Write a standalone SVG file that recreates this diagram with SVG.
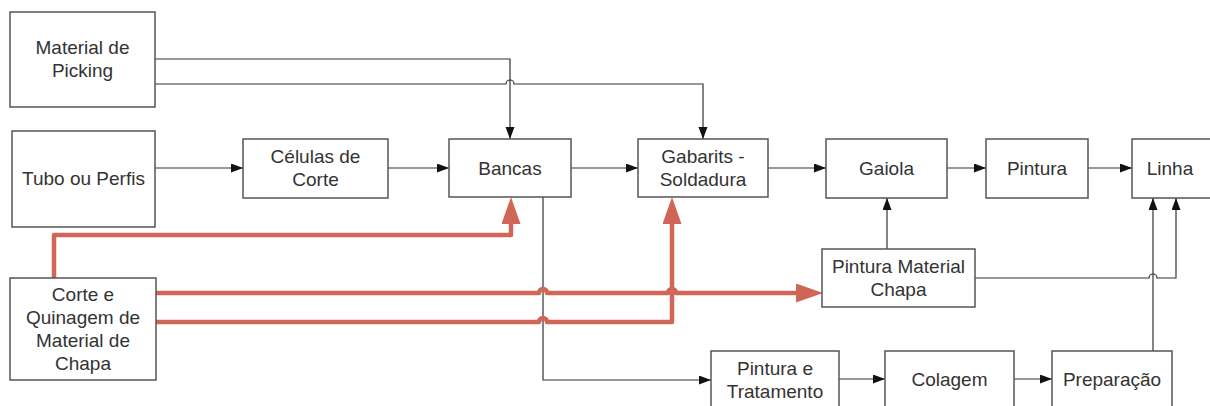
<svg xmlns="http://www.w3.org/2000/svg" width="1210" height="406" viewBox="0 0 1210 406">
  <style>
    .box { fill: #ffffff; stroke: #555555; stroke-width: 1.5; }
    .lbl { font-family: "Liberation Sans", Arial, sans-serif; font-size: 19px; fill: #333333; text-anchor: middle; }
    .flow { fill: none; stroke: #333333; stroke-width: 1.2; }
    .sheet { fill: none; stroke: #cf6656; stroke-width: 4.5; stroke-linejoin: round; }
  </style>
  <defs>
    <marker id="arrowBlack" markerUnits="userSpaceOnUse" markerWidth="13" markerHeight="10" refX="12" refY="4.5" orient="auto">
      <path d="M0,0 L12,4.5 L0,9 z" fill="#111111"/>
    </marker>
    <marker id="arrowRed" markerUnits="userSpaceOnUse" markerWidth="28" markerHeight="20" refX="0" refY="9.5" orient="auto">
      <path d="M0,0 L27,9.5 L0,19 z" fill="#cf6656"/>
    </marker>
  </defs>

  <rect width="1210" height="406" fill="#ffffff"/>

  <!-- connectors -->
  <g id="connectors">
    <path class="flow" d="M155,59 H510 V139" marker-end="url(#arrowBlack)"/>
    <path class="flow" d="M155,84 H506 a4,4 0 0 1 8,0 H703 V139" marker-end="url(#arrowBlack)"/>
    <path class="flow" d="M155,168 H243" marker-end="url(#arrowBlack)"/>
    <path class="flow" d="M388,168 H449" marker-end="url(#arrowBlack)"/>
    <path class="flow" d="M571,168 H638" marker-end="url(#arrowBlack)"/>
    <path class="flow" d="M768,168 H826" marker-end="url(#arrowBlack)"/>
    <path class="flow" d="M947,168 H986" marker-end="url(#arrowBlack)"/>
    <path class="flow" d="M1088,168 H1132" marker-end="url(#arrowBlack)"/>
    <path class="flow" d="M887,249 V198" marker-end="url(#arrowBlack)"/>
    <path class="flow" d="M975,278 H1149 a4,4 0 0 1 8,0 H1176 V198" marker-end="url(#arrowBlack)"/>
    <path class="flow" d="M1153,351 V198" marker-end="url(#arrowBlack)"/>
    <path class="flow" d="M543,197 V380 H711" marker-end="url(#arrowBlack)"/>
    <path class="flow" d="M839,379 H885" marker-end="url(#arrowBlack)"/>
    <path class="flow" d="M1014,379 H1052" marker-end="url(#arrowBlack)"/>

    <!-- sheet-metal flows -->
    <path class="sheet" d="M54,278 V235 H511 V224" marker-end="url(#arrowRed)"/>
    <path class="sheet" d="M156,293 H539 a4,4 0 0 1 8,0 H668 a4,4 0 0 1 8,0 H796" marker-end="url(#arrowRed)"/>
    <path class="sheet" d="M156,322 H539 a4,4 0 0 1 8,0 H672 V224" marker-end="url(#arrowRed)"/>
  </g>

  <!-- nodes -->
  <g id="picking">
    <rect class="box" x="10" y="12" width="145" height="95"/>
    <text class="lbl" x="82.5" y="54">Material de</text>
    <text class="lbl" x="82.5" y="77">Picking</text>
  </g>
  <g id="tubo">
    <rect class="box" x="12" y="131" width="143" height="96"/>
    <text class="lbl" x="83.5" y="185">Tubo ou Perfis</text>
  </g>
  <g id="celulas">
    <rect class="box" x="243" y="139" width="145" height="59"/>
    <text class="lbl" x="315.5" y="163">Células de</text>
    <text class="lbl" x="315.5" y="186">Corte</text>
  </g>
  <g id="bancas">
    <rect class="box" x="449" y="139" width="122" height="58"/>
    <text class="lbl" x="510" y="175">Bancas</text>
  </g>
  <g id="gabarits">
    <rect class="box" x="638" y="139" width="130" height="58"/>
    <text class="lbl" x="703" y="163">Gabarits -</text>
    <text class="lbl" x="703" y="186">Soldadura</text>
  </g>
  <g id="gaiola">
    <rect class="box" x="826" y="139" width="121" height="59"/>
    <text class="lbl" x="886.5" y="175">Gaiola</text>
  </g>
  <g id="pintura">
    <rect class="box" x="986" y="139" width="102" height="59"/>
    <text class="lbl" x="1037" y="175">Pintura</text>
  </g>
  <g id="linha">
    <rect class="box" x="1132" y="139" width="90" height="59"/>
    <text class="lbl" x="1170" y="175">Linha</text>
  </g>
  <g id="pintura-material-chapa">
    <rect class="box" x="822" y="249" width="153" height="58"/>
    <text class="lbl" x="898.5" y="273">Pintura Material</text>
    <text class="lbl" x="898.5" y="296">Chapa</text>
  </g>
  <g id="corte-quinagem">
    <rect class="box" x="10" y="278" width="146" height="102"/>
    <text class="lbl" x="83" y="301">Corte e</text>
    <text class="lbl" x="83" y="324">Quinagem de</text>
    <text class="lbl" x="83" y="347">Material de</text>
    <text class="lbl" x="83" y="370">Chapa</text>
  </g>
  <g id="pintura-tratamento">
    <rect class="box" x="711" y="351" width="128" height="58"/>
    <text class="lbl" x="775" y="375">Pintura e</text>
    <text class="lbl" x="775" y="398">Tratamento</text>
  </g>
  <g id="colagem">
    <rect class="box" x="885" y="351" width="129" height="58"/>
    <text class="lbl" x="949.5" y="386">Colagem</text>
  </g>
  <g id="preparacao">
    <rect class="box" x="1052" y="351" width="120" height="58"/>
    <text class="lbl" x="1112" y="386">Preparação</text>
  </g>
</svg>
